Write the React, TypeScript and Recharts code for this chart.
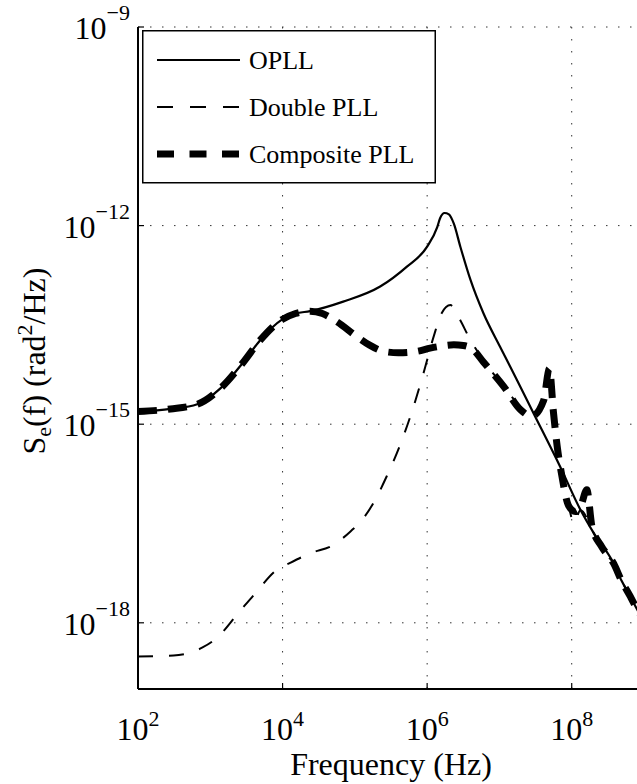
import { LineChart, Line, XAxis, YAxis, CartesianGrid, Legend } from "recharts";

const FONT = '"Liberation Serif", "Times New Roman", Times, serif';

// decade ticks
const freqTicks = [1e2, 1e4, 1e6, 1e8];
const psdTicks = [1e-18, 1e-15, 1e-12, 1e-9];

// OPLL (solid)
const opllFreq = [
    1e2, 2.82e2, 6.6e2, 1.38e3, 2.88e3, 4.9e3, 9.8e3, 1.51e4, 2.4e4, 6.9e4, 2.24e5, 5.25e5, 1.0e6, 1.38e6,
    1.51e6, 1.74e6, 2.0e6, 2.34e6, 2.88e6, 3.98e6, 6.03e6, 1.02e7, 1.74e7, 2.95e7, 6.9e7, 1.32e8, 2.0e8, 3.8e8,
    4.9e8, 6.46e8, 7.6e8, 1e9,
];
const opllPsd = [
    1.55e-15, 1.7e-15, 2.0e-15, 3.47e-15, 8.7e-15, 1.86e-14, 3.8e-14, 4.7e-14, 5.1e-14, 7.1e-14, 1.2e-13,
    2.4e-13, 4.8e-13, 9.5e-13, 1.29e-12, 1.55e-12, 1.48e-12, 1.07e-12, 4.8e-13, 1.51e-13, 4.7e-14, 1.48e-14, 4.7e-15,
    1.48e-15, 2.3e-16, 5.1e-17, 2.3e-17, 7.9e-18, 4.3e-18, 2.5e-18, 1.78e-18, 1.05e-18,
];

// Double PLL (thin dashed)
const doubleFreq = [
    1e2, 3.1e2, 7.7e2, 1.23e3, 2.45e3, 4.2e3, 8.3e3, 1.29e4, 2.4e4, 5.1e4, 8.7e4, 1.26e5, 1.74e5, 2.75e5, 4.3e5,
    6.5e5, 8.9e5, 1.23e6, 1.58e6, 2.1e6, 2.7e6, 3.98e6, 6.0e6, 1.15e7, 1.95e7, 2.8e7, 4.1e7, 4.9e7, 5.6e7, 6.3e7,
    7.2e7, 9.1e7, 1.07e8, 1.32e8, 2.0e8, 2.6e8, 3.8e8, 4.9e8, 6.46e8, 7.6e8, 1e9,
];
const doublePsd = [
    3.1e-19, 3.2e-19, 4.2e-19, 5.9e-19, 1.41e-18, 2.8e-18, 6.3e-18, 8.1e-18, 1.12e-17, 1.51e-17, 2.4e-17, 3.6e-17,
    6.0e-17, 1.62e-16, 5.1e-16, 1.86e-15, 5.9e-15, 2.1e-14, 4.7e-14, 6.3e-14, 4.2e-14, 1.86e-14, 9.3e-15, 3.7e-15,
    1.86e-15, 1.38e-15, 2.3e-15, 7.2e-15, 1.48e-15, 4.6e-16, 1.82e-16, 5.8e-17, 3.2e-17, 5.0e-17, 2.3e-17, 1.26e-17,
    7.9e-18, 4.3e-18, 2.5e-18, 1.78e-18, 1.05e-18,
];

// Composite PLL (thick dashed)
const compositeFreq = [
    1e2, 2.82e2, 6.6e2, 1.38e3, 2.88e3, 4.9e3, 9.8e3, 1.51e4, 2.4e4, 3.55e4, 5.6e4, 1.07e5, 1.58e5, 2.5e5, 4.0e5,
    7.2e5, 1.1e6, 1.58e6, 2.34e6, 3.16e6, 4.2e6, 6.0e6, 1.15e7, 1.95e7, 2.8e7, 4.1e7, 4.9e7, 5.6e7, 6.3e7, 7.2e7,
    9.1e7, 1.12e8, 1.32e8, 1.62e8, 1.9e8, 2.6e8, 3.8e8, 4.9e8, 6.46e8, 7.6e8, 1e9,
];
const compositePsd = [
    1.55e-15, 1.7e-15, 2.0e-15, 3.47e-15, 8.7e-15, 1.86e-14, 3.8e-14, 4.7e-14, 5.1e-14, 4.7e-14, 3.55e-14, 2.1e-14,
    1.58e-14, 1.26e-14, 1.2e-14, 1.26e-14, 1.41e-14, 1.51e-14, 1.58e-14, 1.55e-14, 1.38e-14, 8.7e-15, 3.7e-15,
    1.66e-15, 1.32e-15, 2.3e-15, 6.9e-15, 1.48e-15, 4.6e-16, 1.82e-16, 5.8e-17, 4.8e-17, 5.6e-17, 1.02e-16, 2.9e-17,
    1.41e-17, 7.9e-18, 4.3e-18, 2.5e-18, 1.78e-18, 1.05e-18,
];

const toPoints = (f: number[], s: number[]) => f.map((v, i) => ({ f: v, s: s[i] }));

const series = [
    { name: "OPLL", data: toPoints(opllFreq, opllPsd), width: 2.2, dash: undefined, legendDash: undefined },
    { name: "Double PLL", data: toPoints(doubleFreq, doublePsd), width: 2, dash: "15 16", legendDash: "16 17" },
    { name: "Composite PLL", data: toPoints(compositeFreq, compositePsd), width: 7, dash: "19 11", legendDash: "17 15.5" },
];

const exponentOf = (v: number) => {
    const e = Math.round(Math.log10(v));
    return e < 0 ? "\u2212" + Math.abs(e) : String(e);
};

function BottomTick(props: any) {
    const { x, y, payload } = props;
    return (
        <g>
            <line x1={x} y1={y} x2={x} y2={y - 6} stroke="#000" strokeWidth={1.2} />
            <text x={x} y={y + 51} textAnchor="middle" fontFamily={FONT} fontSize={32} fill="#000">
                <tspan>10</tspan>
                <tspan fontSize={22} dy={-14}>{exponentOf(payload.value)}</tspan>
            </text>
        </g>
    );
}

function TopTick(props: any) {
    const { x, y } = props;
    return <line x1={x} y1={y} x2={x} y2={y + 6} stroke="#000" strokeWidth={1.2} />;
}

function LeftTick(props: any) {
    const { x, y, payload } = props;
    return (
        <g>
            <line x1={x} y1={y} x2={x + 6} y2={y} stroke="#000" strokeWidth={1.2} />
            <text x={x - 8} y={y + 12} textAnchor="end" fontFamily={FONT} fontSize={32} fill="#000">
                <tspan>10</tspan>
                <tspan fontSize={22} dy={-19}>{exponentOf(payload.value)}</tspan>
            </text>
        </g>
    );
}

function YTitle() {
    const cx = 45;
    const cy = 361;
    return (
        <text x={cx} y={cy} transform={`rotate(-90, ${cx}, ${cy})`} textAnchor="middle" fontFamily={FONT} fontSize={32} fill="#000">
            <tspan>S</tspan>
            <tspan fontSize={22} dy={6}>e</tspan>
            <tspan dy={-6}>(f) (rad</tspan>
            <tspan fontSize={22} dy={-13}>2</tspan>
            <tspan dy={13}>/Hz)</tspan>
        </text>
    );
}

function XTitle() {
    return (
        <text x={391} y={775} textAnchor="middle" fontFamily={FONT} fontSize={32} fill="#000">
            Frequency (Hz)
        </text>
    );
}

function LegendBox() {
    return (
        <svg width={294} height={154} style={{ display: "block" }}>
            <rect x={0.75} y={0.75} width={292.5} height={152} fill="#fff" stroke="#000" strokeWidth={1.5} />
            {series.map((s, i) => {
                const cy = 30 + i * 47;
                return (
                    <g key={s.name}>
                        <line x1={15} y1={cy} x2={98} y2={cy} stroke="#000" strokeWidth={s.width} strokeDasharray={s.legendDash} />
                        <text x={107} y={cy + 9} fontFamily={FONT} fontSize={26} fill="#000">
                            {s.name}
                        </text>
                    </g>
                );
            })}
        </svg>
    );
}

export default function App() {
    // figure starts at the page corner; the right edge of the axes is cropped like the source image
    return (
        <div style={{ position: "absolute", left: 0, top: 0, width: 637, height: 784, overflow: "hidden" }}>
            <LineChart width={658} height={784} margin={{ top: 27, right: 14, bottom: 0, left: 0 }}>
                <CartesianGrid stroke="#333" strokeWidth={1} strokeDasharray="1.5 10.5" />
                <XAxis
                    dataKey="f"
                    type="number"
                    scale="log"
                    domain={[1e2, 1e9]}
                    ticks={freqTicks}
                    allowDataOverflow
                    height={95}
                    tickSize={0}
                    tickMargin={0}
                    tickLine={false}
                    tick={<BottomTick />}
                    axisLine={{ stroke: "#000", strokeWidth: 2 }}
                    label={<XTitle />}
                />
                <XAxis
                    xAxisId="top"
                    orientation="top"
                    dataKey="f"
                    type="number"
                    scale="log"
                    domain={[1e2, 1e9]}
                    ticks={freqTicks}
                    allowDataOverflow
                    height={0}
                    tickSize={0}
                    tickMargin={0}
                    tickLine={false}
                    tick={<TopTick />}
                    axisLine={{ stroke: "#000", strokeWidth: 1.5 }}
                />
                <YAxis
                    type="number"
                    scale="log"
                    domain={[1e-19, 1e-9]}
                    ticks={psdTicks}
                    allowDataOverflow
                    width={138}
                    tickSize={0}
                    tickMargin={0}
                    tickLine={false}
                    tick={<LeftTick />}
                    axisLine={{ stroke: "#000", strokeWidth: 2 }}
                    label={<YTitle />}
                />
                <Legend
                    layout="vertical"
                    verticalAlign="middle"
                    align="center"
                    wrapperStyle={{ left: 142, top: 30, width: 294, height: 154 }}
                    content={() => <LegendBox />}
                />
                {series.map((s) => (
                    <Line
                        key={s.name}
                        name={s.name}
                        data={s.data}
                        dataKey="s"
                        type="monotone"
                        stroke="#000"
                        strokeWidth={s.width}
                        strokeDasharray={s.dash}
                        strokeLinejoin="round"
                        dot={false}
                        activeDot={false}
                        isAnimationActive={false}
                    />
                ))}
            </LineChart>
        </div>
    );
}
